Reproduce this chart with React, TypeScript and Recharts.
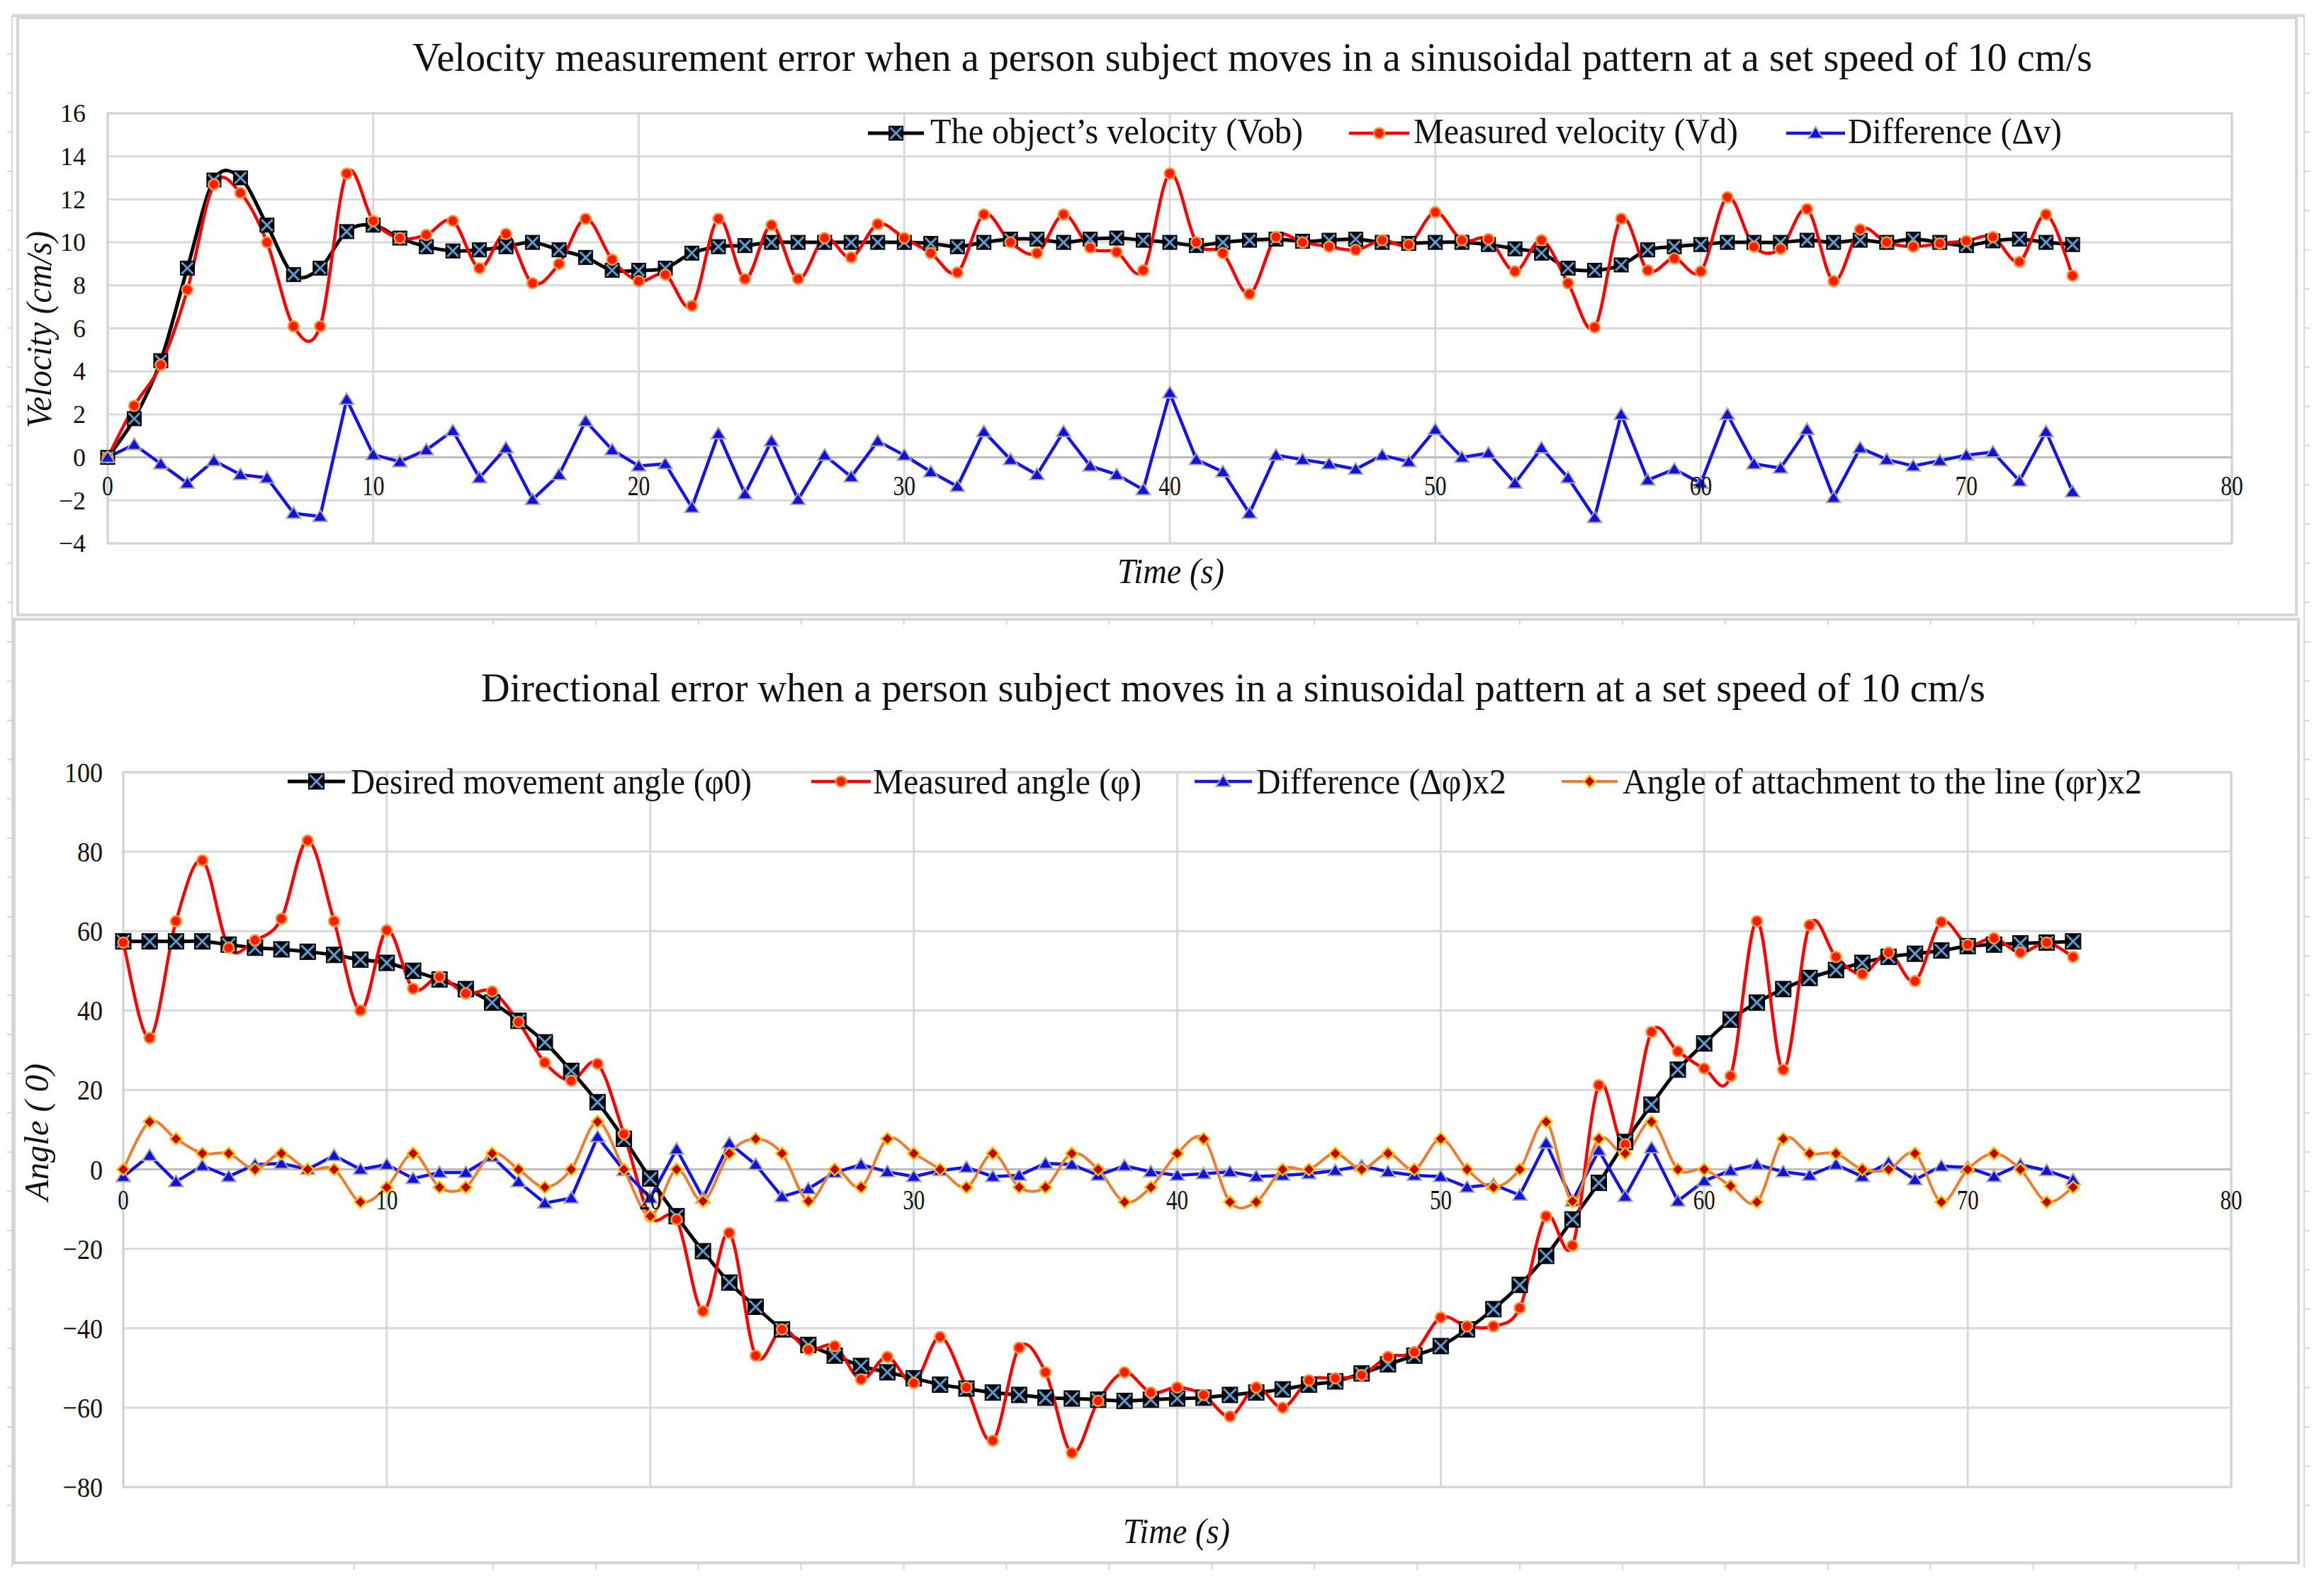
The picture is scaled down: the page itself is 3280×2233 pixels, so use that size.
import React from 'react';
import { LineChart, Line, XAxis, YAxis, CartesianGrid, ReferenceLine, ReferenceArea, Legend } from 'recharts';

const FONT = '"Liberation Serif", "Times New Roman", serif';

// ---------- data ----------
const time = [0,1,2,3,4,5,6,7,8,9,10,11,12,13,14,15,16,17,18,19,20,21,22,23,24,25,26,27,28,29,30,31,32,33,34,35,36,37,38,39,40,41,42,43,44,45,46,47,48,49,50,51,52,53,54,55,56,57,58,59,60,61,62,63,64,65,66,67,68,69,70,71,72,73,74];

const velObject = [0,1.8,4.5,8.8,12.9,13.0,10.8,8.5,8.8,10.5, 10.8,10.2,9.8,9.6,9.65,9.8,10.0,9.65,9.3,8.7, 8.7,8.8,9.5,9.8,9.85,10.0,10.0,10.0,10.0,10.0, 10.0,9.95,9.8,10.0,10.15,10.15,10.0,10.15,10.2,10.1, 10.0,9.85,10.0,10.1,10.15,10.05,10.1,10.15,10.0,9.95, 10.0,10.0,9.9,9.7,9.5,8.8,8.7,8.95,9.65,9.8, 9.9,10.0,10.0,10.0,10.1,10.0,10.1,10.0,10.15,10.0, 9.85,10.07,10.15,10.0,9.9];
const velMeasured = [0,2.4,4.3,7.8,12.7,12.3,10.0,6.1,6.1,13.2, 11.0,10.2,10.35,11.0,8.8,10.4,8.1,9.0,11.1,9.2, 8.2,8.5,7.05,11.1,8.3,10.8,8.3,10.2,9.3,10.85, 10.2,9.5,8.6,11.3,10.0,9.5,11.3,9.75,9.55,8.7, 13.2,10.0,9.5,7.6,10.25,10.0,9.8,9.65,10.1,9.9, 11.4,10.1,10.15,8.65,10.1,8.1,6.05,11.1,8.7,9.25, 8.65,12.1,9.8,9.7,11.55,8.2,10.6,10.0,9.8,9.95, 10.07,10.25,9.1,11.3,8.45];
const velDiff = [0,0.6,-0.3,-1.2,-0.15,-0.8,-0.95,-2.6,-2.75,2.7, 0.13,-0.2,0.35,1.24,-0.95,0.44,-1.96,-0.8,1.69,0.35, -0.4,-0.3,-2.33,1.1,-1.7,0.76,-1.96,0.1,-0.9,0.76, 0.1,-0.67,-1.35,1.2,-0.1,-0.8,1.2,-0.4,-0.8,-1.5, 3.0,-0.1,-0.67,-2.6,0.1,-0.1,-0.3,-0.55,0.1,-0.2, 1.3,0.0,0.2,-1.2,0.44,-0.95,-2.8,2.0,-1.05,-0.55, -1.2,2.0,-0.3,-0.5,1.3,-1.87,0.44,-0.1,-0.4,-0.15, 0.1,0.25,-1.1,1.2,-1.6];

const angDesired = [57.4,57.4,57.4,57.4,56.6,55.8,55.4,54.8,54.0,52.8, 52.0,50.0,47.8,45.4,42.0,37.4,32.0,24.8,16.9,7.7, -2.3,-11.8,-20.6,-28.5,-34.6,-40.3,-44.2,-46.9,-49.5,-51.1, -52.6,-54.2,-55.2,-56.2,-56.8,-57.5,-57.7,-58.0,-58.3,-58.0, -57.7,-57.5,-56.8,-56.2,-55.4,-54.2,-53.4,-51.4,-49.1,-46.9, -44.5,-40.3,-35.2,-29.1,-21.8,-12.6,-3.4,6.9,16.3,25.1, 31.7,37.7,42.0,45.4,48.2,50.2,52.0,53.5,54.3,55.1, 56.2,56.6,56.9,57.1,57.4];
const angMeasured = [57.1,33.1,62.5,77.8,55.8,57.7,63.1,82.8,62.5,40.0, 60.2,45.5,48.5,44.3,44.8,37.1,26.9,22.3,26.6,8.9, -11.8,-12.6,-35.7,-16.0,-46.9,-40.3,-45.4,-44.5,-52.9,-47.2, -53.8,-42.2,-54.9,-68.3,-44.9,-51.1,-71.4,-58.3,-51.1,-56.2, -54.9,-56.8,-62.2,-54.9,-60.0,-53.1,-52.6,-51.8,-47.2,-46.0, -37.3,-39.5,-39.5,-34.9,-11.8,-19.2,21.2,6.3,34.6,29.7, 25.4,23.5,62.5,25.1,61.5,53.5,49.2,54.6,47.4,62.3, 56.6,58.2,54.6,57.1,53.5];
const angDiff2 = [-1.8,3.5,-3.1,0.9,-1.8,1.2,1.5,0,3.5,0, 1.2,-2.3,-0.8,-0.8,3.2,-3.1,-8.5,-7.2,8.2,-0.3, -7.2,5.1,-7.2,6.6,1.2,-6.9,-4.9,-0.8,1.2,-0.6, -1.8,-0.3,0.5,-1.8,-1.5,1.5,1.2,-1.5,0.9,-0.6, -1.5,-1.1,-0.6,-1.8,-1.5,-1.1,-0.3,0.9,-0.6,-1.5, -1.8,-4.5,-3.8,-6.5,6.6,-8.0,4.8,-6.8,5.4,-8.0, -2.9,-0.3,1.2,-0.6,-1.5,1.2,-1.8,1.7,-2.6,0.8, 0.5,-1.8,1.2,-0.3,-2.6];
const angAttach2 = [0,12,7.7,4,4,0,4,0,0,-8.2, -4.5,4,-4.5,-4.5,4,0,-4.5,0,12,0, -11.8,0,-8,4,7.7,4,-8,0,-4.5,7.7, 4,0,-4.5,4,-4.5,-4.5,4,0,-8.2,-4.5, 4,7.7,-8.2,-8.2,0,0,4,0,4,0, 7.7,0,-4.5,0,12,-8,7.7,4,12,0, 0,-4.2,-8.2,7.7,4,4,0,0,4,-8.2, 0,4,0,-8.2,-4.5];

const timeTicks = [0,10,20,30,40,50,60,70,80];
const velTicks = [-4,-2,0,2,4,6,8,10,12,14,16];
const angTicks = [-80,-60,-40,-20,0,20,40,60,80,100];

const velRows = time.map((t, i) => ({ t, vob: velObject[i], vd: velMeasured[i], dv: velDiff[i] }));
const angRows = time.map((t, i) => ({ t, p0: angDesired[i], p: angMeasured[i], dp: angDiff2[i], pr: angAttach2[i] }));

const velSeries = [
  { key: 'vob', name: 'The object\u2019s velocity (Vob)', color: '#000000', width: 5, marker: 'square', smooth: true },
  { key: 'vd', name: 'Measured velocity (Vd)', color: '#ff0000', width: 4.5, marker: 'circle', smooth: true },
  { key: 'dv', name: 'Difference (\u0394v)', color: '#1414e6', width: 4.5, marker: 'triangle', smooth: false },
];
const angSeries = [
  { key: 'p0', name: 'Desired movement angle (\u03c60)', color: '#000000', width: 5, marker: 'square', smooth: true },
  { key: 'p', name: 'Measured angle (\u03c6)', color: '#ff0000', width: 4.5, marker: 'circle', smooth: true },
  { key: 'dp', name: 'Difference (\u0394\u03c6)x2', color: '#1414e6', width: 4.5, marker: 'triangle', smooth: false },
  { key: 'pr', name: 'Angle of attachment to the line (\u03c6r)x2', color: '#ed7d31', width: 4, marker: 'diamond', smooth: true },
];

// ---------- smoothing (Catmull-Rom, like spreadsheet smoothed lines) ----------
function smoothCurve(context: any) {
  let xs: number[] = [];
  let ys: number[] = [];
  return {
    areaStart() {},
    areaEnd() {},
    lineStart() { xs = []; ys = []; },
    point(x: number, y: number) { xs.push(+x); ys.push(+y); },
    lineEnd() {
      const n = xs.length;
      if (!n) return;
      context.moveTo(xs[0], ys[0]);
      for (let i = 0; i < n - 1; i++) {
        const i0 = Math.max(0, i - 1);
        const i3 = Math.min(n - 1, i + 2);
        const c1x = xs[i] + (xs[i + 1] - xs[i0]) / 6;
        const c1y = ys[i] + (ys[i + 1] - ys[i0]) / 6;
        const c2x = xs[i + 1] - (xs[i3] - xs[i]) / 6;
        const c2y = ys[i + 1] - (ys[i3] - ys[i]) / 6;
        context.bezierCurveTo(c1x, c1y, c2x, c2y, xs[i + 1], ys[i + 1]);
      }
    },
  };
}

// ---------- markers ----------
function Marker({ kind, cx, cy, size }: any) {
  if (kind === 'square') {
    const h = size / 2;
    return (
      <g>
        <rect x={cx - h} y={cy - h} width={size} height={size} fill="#050505" stroke="#000" strokeWidth={1} />
        <line x1={cx - h + 2} y1={cy - h + 2} x2={cx + h - 2} y2={cy + h - 2} stroke="#5b9bd5" strokeWidth={3} />
        <line x1={cx + h - 2} y1={cy - h + 2} x2={cx - h + 2} y2={cy + h - 2} stroke="#5b9bd5" strokeWidth={3} />
      </g>
    );
  }
  if (kind === 'circle') {
    return <circle cx={cx} cy={cy} r={7.5} fill="#ff1a00" stroke="#f39a3a" strokeWidth={2.5} />;
  }
  if (kind === 'triangle') {
    return <path d={`M${cx},${cy - 9} L${cx + 10},${cy + 7} L${cx - 10},${cy + 7} Z`} fill="#1010e0" stroke="#a8a8a8" strokeWidth={2} />;
  }
  return <path d={`M${cx},${cy - 8.5} L${cx + 8.5},${cy} L${cx},${cy + 8.5} L${cx - 8.5},${cy} Z`} fill="#c00000" stroke="#ffc000" strokeWidth={2.5} />;
}

const makeDot = (kind: string, size: number, id: string) => (props: any) => {
  const { cx, cy, index } = props;
  if (cx == null || cy == null) return <g key={`${id}-${index}`} />;
  return <g key={`${id}-${index}`}><Marker kind={kind} cx={cx} cy={cy} size={size} /></g>;
};

const minusFmt = (v: any) => String(v).replace('-', '\u2212');

// ---------- legend ----------
function LegendSvg({ items, series, height, lineY, baseline, fontSize, markerSize }: any) {
  return (
    <svg width={3280} height={height} style={{ display: 'block', overflow: 'visible' }}>
      {series.map((s: any, i: number) => {
        const it = items[i];
        return (
          <g key={s.key}>
            <line x1={it.x1} x2={it.x2} y1={lineY} y2={lineY} stroke={s.color} strokeWidth={s.width} />
            <Marker kind={s.marker} cx={(it.x1 + it.x2) / 2} cy={lineY} size={markerSize} />
            <text x={it.tx} y={baseline} fontFamily={FONT} fontSize={fontSize} fill="#111" textLength={it.tw} lengthAdjust="spacingAndGlyphs">{s.name}</text>
          </g>
        );
      })}
    </svg>
  );
}

const velLegendPos = [
  { x1: 1225, x2: 1304, tx: 1313, tw: 526 },
  { x1: 1904, x2: 1989, tx: 1995, tw: 458 },
  { x1: 2521, x2: 2604, tx: 2608, tw: 302 },
];
const angLegendPos = [
  { x1: 406, x2: 487, tx: 495, tw: 566 },
  { x1: 1145, x2: 1229, tx: 1232, tw: 379 },
  { x1: 1686, x2: 1767, tx: 1773, tw: 353 },
  { x1: 2204, x2: 2283, tx: 2290, tw: 733 },
];

// ---------- chart builder ----------
function Panel({ rows, series, width, height, margin, yDomain, yTicks, xLabel, yLabel, markerSize, legend }: any) {
  const xAxisH = 30;
  const plotH = height - margin.top - margin.bottom - xAxisH;
  const zeroY = margin.top + plotH * (yDomain[1] - 0) / (yDomain[1] - yDomain[0]);
  const XTick = (p: any) => {
    const s = String(p.payload.value);
    return (
      <text x={p.x} y={zeroY + xLabel.gap} textAnchor="middle" fontFamily={FONT} fontSize={xLabel.fontSize} fill="#111"
        textLength={s.length * xLabel.charW} lengthAdjust="spacingAndGlyphs">{s}</text>
    );
  };
  const YTick = (p: any) => {
    const s = minusFmt(p.payload.value);
    const x = p.x;
    const y = p.y;
    return (
      <text x={0} y={0} transform={`translate(${x},${y}) scale(${yLabel.sx},1)`} dy="0.34em" textAnchor="end" fontFamily={FONT} fontSize={yLabel.fontSize} fill="#111">{s}</text>
    );
  };
  return (
    <LineChart width={width} height={height} data={rows} margin={margin}>
      <CartesianGrid stroke="#d9d9d9" strokeWidth={3} />
      <ReferenceArea x1={0} x2={80} y1={yDomain[0]} y2={yDomain[1]} fill="none" fillOpacity={0} stroke="#d4d4d4" strokeWidth={3} />
      <XAxis dataKey="t" type="number" domain={[0, 80]} ticks={timeTicks} height={xAxisH} axisLine={false} tickLine={false} tickSize={0} tickMargin={0} tick={XTick} interval={0} />
      <YAxis type="number" domain={yDomain} ticks={yTicks} width={100} axisLine={false} tickLine={false} tickSize={0} tickMargin={yLabel.margin} interval={0} tick={YTick} />
      <ReferenceLine y={0} stroke="#bdbdbd" strokeWidth={3} />
      {series.map((s: any) => (
        <Line key={s.key} dataKey={s.key} name={s.name} type={s.smooth ? smoothCurve : 'linear'} stroke={s.color} strokeWidth={s.width} dot={makeDot(s.marker, markerSize, s.key)} activeDot={false} isAnimationActive={false} />
      ))}
      <Legend layout="vertical" align="center" verticalAlign="middle" wrapperStyle={{ position: 'absolute', left: 0, top: 0, width: 3280, height }} content={() => (
        <LegendSvg items={legend.items} series={series} height={height} lineY={legend.lineY} baseline={legend.baseline} fontSize={legend.fontSize} markerSize={markerSize} />
      )} />
    </LineChart>
  );
}

// ---------- decorations ----------
function Frames() {
  const leftTop: number[] = [];
  for (let y = 76; y <= 860; y += 55.3) leftTop.push(y);
  const leftBot: number[] = [];
  for (let y = 906; y <= 2180; y += 55.4) leftBot.push(y);
  const bx: number[] = [500];
  for (let x = 696; x <= 3170; x += 144.9) bx.push(x);
  const ys = [...leftTop, ...leftBot];
  const c = '#d6d6d6';
  return (
    <svg width={3280} height={2233} style={{ position: 'absolute', left: 0, top: 0 }}>
      <rect x={0} y={0} width={3280} height={2233} fill="#fff" />
      <line x1={17} y1={22} x2={3253} y2={22} stroke={c} strokeWidth={4} />
      <line x1={17} y1={22} x2={17} y2={2212} stroke={c} strokeWidth={2} />
      <line x1={3252} y1={22} x2={3252} y2={2212} stroke={c} strokeWidth={2} />
      {ys.map((y, i) => <line key={'l' + i} x1={10} x2={17} y1={y} y2={y} stroke={c} strokeWidth={2} />)}
      {ys.map((y, i) => <line key={'r' + i} x1={3252} x2={3260} y1={y} y2={y} stroke={c} strokeWidth={2} />)}
      <rect x={25} y={25} width={3216} height={843} fill="#fff" stroke={c} strokeWidth={4} />
      <rect x={20} y={874} width={3224} height={1332} fill="#fff" stroke={c} strokeWidth={4} />
      {bx.map((x, i) => <line key={'b' + i} x1={x} x2={x} y1={2206} y2={2216} stroke={c} strokeWidth={2} />)}
      {bx.map((x, i) => <line key={'t' + i} x1={x} x2={x} y1={874} y2={882} stroke={c} strokeWidth={2} />)}
    </svg>
  );
}

function Texts() {
  const t = { fontFamily: FONT, fill: '#111' } as any;
  return (
    <svg width={3280} height={2233} style={{ position: 'absolute', left: 0, top: 0, pointerEvents: 'none' }}>
      <text x={582} y={100} fontSize={56} textLength={2371} lengthAdjust="spacingAndGlyphs" {...t}>Velocity measurement error when a person subject moves in a sinusoidal pattern at a set speed of 10 cm/s</text>
      <text x={1577} y={823} fontSize={50} fontStyle="italic" textLength={151} lengthAdjust="spacingAndGlyphs" {...t}>Time (s)</text>
      <text transform="translate(72,604) rotate(-90)" x={0} y={0} fontSize={50} fontStyle="italic" textLength={278} lengthAdjust="spacingAndGlyphs" {...t}>Velocity (cm/s)</text>
      <text x={679} y={990} fontSize={58} textLength={2123} lengthAdjust="spacingAndGlyphs" {...t}>Directional error when a person subject moves in a sinusoidal pattern at a set speed of 10 cm/s</text>
      <text x={1585} y={2178} fontSize={50} fontStyle="italic" textLength={151} lengthAdjust="spacingAndGlyphs" {...t}>Time (s)</text>
      <text transform="translate(68,1695) rotate(-90)" x={0} y={0} fontSize={48} fontStyle="italic" textLength={194} lengthAdjust="spacingAndGlyphs" {...t}>Angle ( 0)</text>
    </svg>
  );
}

export default function App() {
  return (
    <div style={{ position: 'absolute', left: 0, top: 0, width: 3280, height: 2233, background: '#fff', overflow: 'hidden' }}>
      <Frames />
      <div style={{ position: 'absolute', left: 0, top: 0 }}>
        <Panel
          rows={velRows} series={velSeries} width={3280} height={880}
          margin={{ top: 160, right: 130, left: 52, bottom: 83 }}
          yDomain={[-4, 16]} yTicks={velTicks} markerSize={20}
          xLabel={{ gap: 53.5, fontSize: 39, charW: 15.8 }}
          yLabel={{ margin: 31, fontSize: 36, sx: 1 }}
          legend={{ items: velLegendPos, lineY: 188, baseline: 202, fontSize: 51 }}
        />
      </div>
      <div style={{ position: 'absolute', left: 0, top: 880 }}>
        <Panel
          rows={angRows} series={angSeries} width={3280} height={1353}
          margin={{ top: 210, right: 131, left: 74, bottom: 104 }}
          yDomain={[-80, 100]} yTicks={angTicks} markerSize={22}
          xLabel={{ gap: 56, fontSize: 41, charW: 15.5 }}
          yLabel={{ margin: 29, fontSize: 41, sx: 0.88 }}
          legend={{ items: angLegendPos, lineY: 223, baseline: 240, fontSize: 50 }}
        />
      </div>
      <Texts />
    </div>
  );
}
